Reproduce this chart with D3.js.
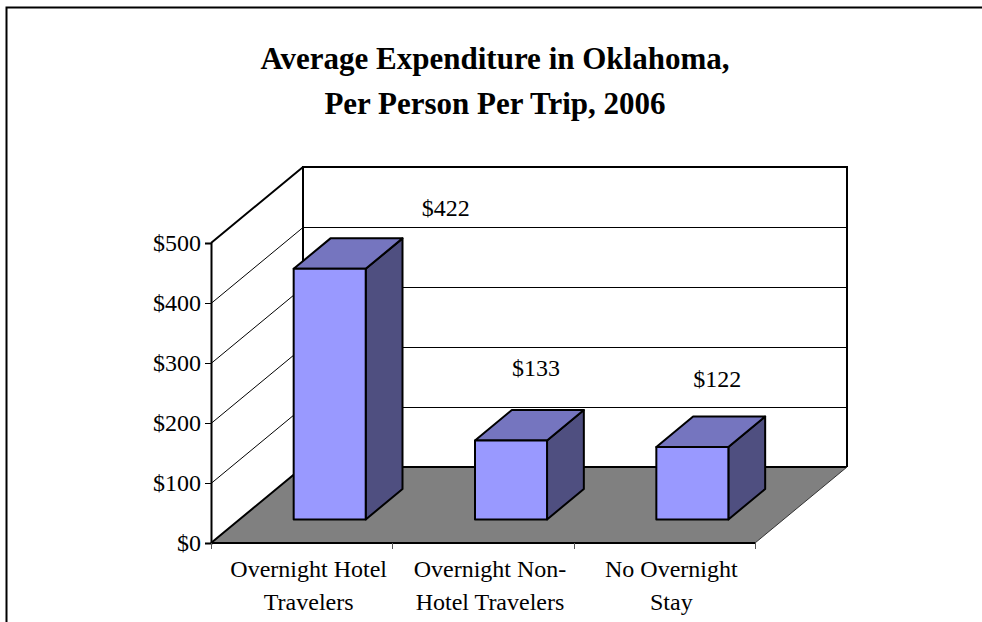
<!DOCTYPE html>
<html><head><meta charset="utf-8">
<script src="https://cdn.jsdelivr.net/npm/d3@7"></script>
<style>
html,body{margin:0;padding:0;background:#fff}
svg{display:block}
text{font-family:"Liberation Serif","Times New Roman",serif;fill:#000}
</style></head><body><div id="chart"></div>
<script>
const titleLines = ["Average Expenditure in Oklahoma,", "Per Person Per Trip, 2006"];
const categories = ["Overnight Hotel Travelers", "Overnight Non-Hotel Travelers", "No Overnight Stay"];
const categoryLines = [["Overnight Hotel", "Travelers"], ["Overnight Non-", "Hotel Travelers"], ["No Overnight", "Stay"]];
const values = [422, 133, 122];
const yTicks = [0, 100, 200, 300, 400, 500];

const W = 982, H = 622;
const x0 = 211, x1 = 755, yBase = 543, yTop = 243;
const depthX = 92, depthY = -76;
const barFrac = 0.31, barDepthFrac = 0.4;
const labelDx = [116, 25, 25], labelDy = [-22, -34, -30];

const svg = d3.select("#chart").append("svg").attr("width", W).attr("height", H);
const y = d3.scaleLinear().domain([0, 500]).range([yBase, yTop]);
// bars sit further back in the 3D box, so they are drawn on a slightly shorter scale
const yBar = d3.scaleLinear().domain([0, 500]).range([0, 297]);
const x = d3.scaleBand().domain(categories).range([x0, x1]).paddingInner(0).paddingOuter(0);
const barW = x.bandwidth() * 0.4 - 0.5;

svg.append("path").attr("d", `M6.5,622V7.5H982`).attr("fill", "none").attr("stroke", "#000").attr("stroke-width", 2);

svg.append("g").selectAll("text").data(titleLines).join("text")
  .attr("x", 495).attr("y", (d, i) => 69 + i * 45)
  .attr("text-anchor", "middle").attr("font-size", 31).attr("font-weight", "bold").text(d => d);

const yb = y(500) + depthY, ye = y(0) + depthY;
svg.append("path").attr("d", `M${x0},${y(0)}V${y(500)}L${x0 + depthX},${yb}H${x1 + depthX}V${ye}`)
  .attr("fill", "#fff").attr("stroke", "none");

svg.append("g").selectAll("path").data(yTicks.slice(1, -1)).join("path")
  .attr("d", d => `M${x0},${y(d) + 0.5}L${x0 + depthX},${y(d) + depthY + 0.5}H${x1 + depthX}`)
  .attr("fill", "none").attr("stroke", "#000").attr("stroke-width", 1);

svg.append("path").attr("d", `M${x0},${yBase}L${x0 + depthX},${ye}H${x1 + depthX}L${x1},${yBase}Z`)
  .attr("fill", "#808080");

svg.append("path").attr("d", `M${x0 + depthX},${ye}V${yb}H${x1 + depthX}V${ye}M${x0 + depthX},${yb}L${x0},${y(500)}`)
  .attr("fill", "none").attr("stroke", "#000").attr("stroke-width", 2);
svg.append("path").attr("d", `M${x0},${yBase}L${x0 + depthX},${ye}H${x1 + depthX}`)
  .attr("fill", "none").attr("stroke", "#000").attr("stroke-width", 2);
svg.append("path").attr("d", `M${x1 + depthX},${ye}L${x1},${yBase}`)
  .attr("fill", "none").attr("stroke", "#333").attr("stroke-width", 1);

const fx = depthX * barFrac, fy = depthY * barFrac;
const dx = depthX * barDepthFrac, dy = depthY * barDepthFrac;
const bars = svg.append("g").selectAll("g").data(values).join("g")
  .attr("stroke", "#000").attr("stroke-width", 2).attr("stroke-linejoin", "round");
const bl = (i) => x(categories[i]) + (x.bandwidth() - barW) / 2 + fx - 0.5;
const bb = yBase + fy;
const bt = (d) => bb - yBar(d);
bars.append("path").attr("fill", "#4F4F80")
  .attr("d", (d, i) => `M${bl(i) + barW},${bb}V${bt(d)}l${dx},${dy}V${bb + dy}Z`);
bars.append("path").attr("fill", "#7575BF")
  .attr("d", (d, i) => `M${bl(i)},${bt(d)}l${dx},${dy}h${barW}l${-dx},${-dy}Z`);
bars.append("rect").attr("fill", "#9999FF")
  .attr("x", (d, i) => bl(i)).attr("y", d => bt(d)).attr("width", barW).attr("height", d => bb - bt(d));

svg.append("g").selectAll("text").data(values).join("text")
  .attr("x", (d, i) => bl(i) + barW / 2 + labelDx[i])
  .attr("y", (d, i) => bt(d) + dy + labelDy[i])
  .attr("text-anchor", "middle").attr("font-size", 24).text(d => "$" + d);

const yAxis = svg.append("g").attr("transform", `translate(${x0},0)`)
  .call(d3.axisLeft(y).tickValues(yTicks).tickSize(6).tickPadding(4).tickFormat(d => "$" + d));
yAxis.attr("font-family", null);
yAxis.selectAll("path.domain").attr("stroke", "#000").attr("stroke-width", 2);
yAxis.selectAll("line").attr("stroke", "#000").attr("stroke-width", 1);
yAxis.selectAll("text").attr("font-size", 24).attr("dy", "0.33em");

const xEdges = categories.map(c => x(c)).concat([x1]);
const xAxis = svg.append("g").attr("transform", `translate(0,${yBase})`);
xAxis.append("line").attr("x1", x0).attr("x2", x1).attr("stroke", "#000").attr("stroke-width", 2);
xAxis.selectAll("line.t").data(xEdges).join("line").attr("class", "t")
  .attr("x1", d => Math.round(d) + 0.5).attr("x2", d => Math.round(d) + 0.5).attr("y1", 0).attr("y2", 6)
  .attr("stroke", "#555").attr("stroke-width", 1);
const cat = xAxis.selectAll("text").data(categoryLines).join("text")
  .attr("text-anchor", "middle").attr("font-size", 24);
cat.selectAll("tspan").data((d, i) => d.map(t => ({ t, i }))).join("tspan")
  .attr("x", d => x(categories[d.i]) + x.bandwidth() / 2 + 7)
  .attr("y", (d, j) => 34 + j * 33).text(d => d.t);
</script></body></html>
